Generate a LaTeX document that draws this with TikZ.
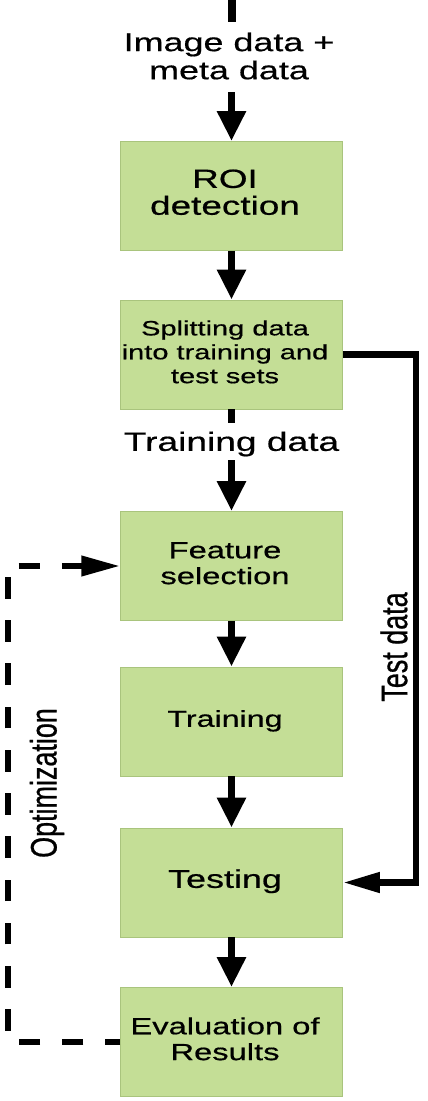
\documentclass[tikz,border=0pt]{standalone}
\usepackage{fontspec}
\setmainfont{Liberation Sans}[FakeStretch=1.4, FakeBold=0.6]
\newfontfamily\tallfont{Liberation Sans}[FakeStretch=0.73, FakeBold=0.6]
\usetikzlibrary{arrows.meta}
\definecolor{stagefill}{HTML}{C4DE96}
\definecolor{stageedge}{HTML}{A9C47D}
\newcommand\stagetext[1]{\begin{tabular}{@{}c@{}}#1\end{tabular}\kern0.26cm}
\tikzset{
  stage/.style={draw=stageedge, fill=stagefill, line width=0.5pt,
    minimum width=4.44cm, minimum height=2.18cm, inner sep=0pt},
  flow/.style={line width=4.4pt, -{Triangle[length=17pt,width=15.5pt]}},
  feed/.style={line width=3.7pt, -{Triangle[length=21pt,width=11pt]}},
  optloop/.style={line width=3.4pt, dash pattern=on 12.3pt off 12.3pt,
    dash phase=3.7pt, -{Triangle[length=22pt,width=11pt]}},
  lbl/.style={inner sep=0pt, align=center},
}
\begin{document}
\begin{tikzpicture}[x=0.02cm,y=-0.02cm]
\useasboundingbox (0,0) rectangle (427,1101);
% stages
\node[stage, font=\fontsize{15}{14.7}\selectfont] (roi) at (231.5,196) {\stagetext{ROI\\detection}};
\node[stage, font=\fontsize{11.8}{13.6}\selectfont] (split) at (231.5,354.5) {\stagetext{Splitting data\\into training and\\test sets}};
\node[stage, font=\fontsize{13.3}{14.7}\selectfont] (feat) at (231.5,566) {\stagetext{Feature\\selection}};
\node[stage, font=\fontsize{13.1}{15}\selectfont] (train) at (231.5,721.5) {\stagetext{Training}};
\node[stage, font=\fontsize{14.6}{15}\selectfont] (test) at (231.5,882.5) {\stagetext{Testing}};
\node[stage, font=\fontsize{13.3}{14.7}\selectfont] (eval) at (231.5,1042) {\stagetext{Evaluation of\\Results}};
% labels
\coordinate (top) at (232,0);
\node[lbl, font=\fontsize{14.6}{16}\selectfont] (imgdata) at (229,56) {Image data +\\meta data};
\node[lbl, font=\fontsize{15.1}{15}\selectfont] (trainlbl) at (231.5,444) {Training data};
\node[lbl, rotate=90, font=\tallfont\fontsize{21}{21}\selectfont] (testlbl) at (394,647) {Test data};
\node[lbl, rotate=90, font=\tallfont\fontsize{21}{21}\selectfont] (optlbl) at (47,783) {Optimization};
% main flow
\draw[line width=4.4pt, shorten >=6pt] (top) -- (top |- imgdata.north);
\draw[flow, shorten <=7pt] (imgdata.south -| roi) -- (roi);
\draw[flow] (roi) -- (split);
\draw[line width=4.4pt, shorten >=4.5pt] (split) -- (trainlbl.north);
\draw[flow, shorten <=2pt] (trainlbl.south) -- (feat);
\draw[flow] (feat) -- (train);
\draw[flow] (train) -- (test);
\draw[flow] (test) -- (eval);
% side paths
\draw[feed] (split.east) -- ++(73,0) |- (test.east);
\draw[optloop] (eval.west) -- ++(-112,0) |- (feat.west);
\end{tikzpicture}
\end{document}
